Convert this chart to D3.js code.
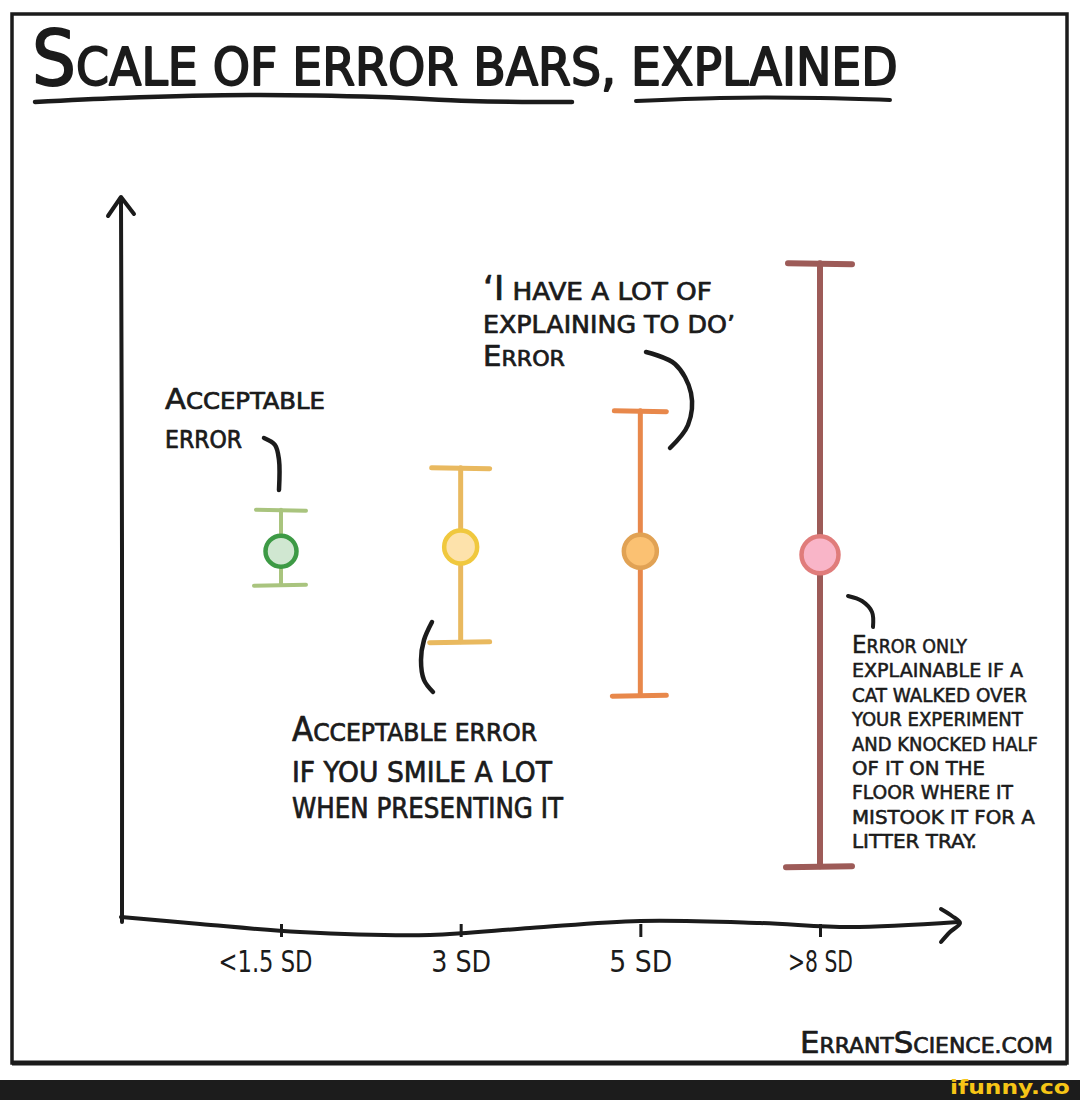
<!DOCTYPE html>
<html><head><meta charset="utf-8">
<script src="https://cdn.jsdelivr.net/npm/d3@7"></script>
<style>html,body{margin:0;padding:0;background:#fff;} svg{display:block;}</style>
</head><body>
<svg id="c" width="1080" height="1100"></svg>
<script>
// ---------- DATA ----------
const categories = ["<1.5 SD", "3 SD", "5 SD", ">8 SD"];
const centerValues = [-0.02, 0.05, -0.02, -0.08];
const upperValues  = [0.67, 1.37, 2.32, 4.78];
const lowerValues  = [-0.58, -1.53, -2.42, -5.27];

// ---------- TEXT ----------
const titleText = "{S}CALE OF ERROR BARS, EXPLAINED";
const note1 = ["{A}CCEPTABLE", "ERROR"];
const note2 = ["{‘I} HAVE A LOT OF", "EXPLAINING TO DO’", "{E}RROR"];
const note3 = ["{A}CCEPTABLE ERROR", "IF YOU SMILE A LOT", "WHEN PRESENTING IT"];
const note4 = ["{E}RROR ONLY", "EXPLAINABLE IF A", "CAT WALKED OVER", "YOUR EXPERIMENT",
               "AND KNOCKED HALF", "OF IT ON THE", "FLOOR WHERE IT", "MISTOOK IT FOR A", "LITTER TRAY."];
const footerText = "{E}RRANT{S}CIENCE.COM";
const watermark = "ifunny.co";

// ---------- STYLE ----------
const barColors  = ["#a9c47e", "#e9b95f", "#e8884b", "#9d5b58"];
const ringColors = ["#3d9a45", "#f0c83e", "#e1a254", "#e07c7b"];
const fillColors = ["#d0e7d1", "#fde2ab", "#fbc172", "#f9b5c8"];
const barWidths  = [4, 5, 5, 6];
const capHalf    = [25, 29, 26, 32];
const radii      = [15.5, 16.5, 16.5, 18.5];
const ink = "#1b1b1b";
const FONT = "'DejaVu Sans Condensed','DejaVu Sans',sans-serif";

const svg = d3.select("#c");
svg.append("rect").attr("width",1080).attr("height",1100).attr("fill","#fff");

// frame
svg.append("rect").attr("x",12).attr("y",14).attr("width",1055).attr("height",1049)
  .attr("fill","none").attr("stroke",ink).attr("stroke-width",3.5);
svg.append("line").attr("x1",12).attr("x2",1067).attr("y1",1063).attr("y2",1063)
  .attr("stroke",ink).attr("stroke-width",5);

// bottom watermark band
svg.append("rect").attr("x",0).attr("y",1080).attr("width",1080).attr("height",20).attr("fill","#1c1c1c");

// ---------- text helper (fake small caps + width fit) ----------
function parse(str){
  const out=[]; const re=/\{([^}]*)\}/g; let last=0, m;
  while((m=re.exec(str))){ if(m.index>last) out.push([str.slice(last,m.index),false]); out.push([m[1],true]); last=re.lastIndex; }
  if(last<str.length) out.push([str.slice(last),false]);
  return out;
}
function scText(x, y, str, width, bigSize, smallSize, opts={}){
  const g = svg.append("g");
  const t = g.append("text").attr("font-family",opts.font||FONT).attr("fill",opts.fill||ink)
    .attr("font-weight",opts.weight||"normal");
  const sw = opts.stroke===undefined ? 0.7 : opts.stroke;
  if(sw>0) t.attr("stroke",opts.fill||ink).attr("stroke-width",sw).attr("stroke-linejoin","round");
  parse(str).forEach(([s,big])=>{ t.append("tspan").attr("font-size", big?bigSize:smallSize).text(s); });
  const len = t.node().getComputedTextLength();
  g.attr("transform",`translate(${x},${y}) scale(${width/len},1)`);
  return g;
}

// title
scText(32, 85, titleText, 866, 76, 52, {stroke:1.8});
const hand = d3.line().curve(d3.curveCatmullRom);
svg.append("path").attr("d", hand([[35,102],[120,98],[250,95],[380,97],[470,101],[572,102]]))
  .attr("fill","none").attr("stroke",ink).attr("stroke-width",4.5).attr("stroke-linecap","round");
svg.append("path").attr("d", hand([[636,101],[720,98],[820,98],[890,100]]))
  .attr("fill","none").attr("stroke",ink).attr("stroke-width",4).attr("stroke-linecap","round");

// ---------- scales ----------
const x = d3.scalePoint().domain(categories).range([281, 820]);
const y = d3.scaleLinear().domain([-6, 6]).range([910, 190]);

// y axis (hand-drawn)
const axisStroke = {fill:"none", stroke:ink, "stroke-width":4, "stroke-linecap":"round", "stroke-linejoin":"round"};
function styled(p){ Object.entries(axisStroke).forEach(([k,v])=>p.attr(k,v)); return p; }
styled(svg.append("path").attr("d", hand([[122,y(-6.2)],[122,y(0)],[121,y(5.8)]])));
styled(svg.append("path").attr("d", d3.line()([[108,216],[121,197],[134,214]])));
// x axis wavy baseline
styled(svg.append("path").attr("d", hand([[121,917],[200,924],[300,932],[430,935],[530,928],[640,921],[760,923],[850,927],[958,922]])));
styled(svg.append("path").attr("d", d3.line().curve(d3.curveCatmullRom)([[941,909],[952,916],[960,923],[950,932],[941,942]])));

// x axis ticks + labels through d3 axis
const xAxis = svg.append("g").attr("transform","translate(0,926)")
  .call(d3.axisBottom(x).tickSize(11).tickPadding(0));
xAxis.select(".domain").remove();
xAxis.selectAll(".tick line").attr("stroke",ink).attr("stroke-width",3).attr("y1",-2);
const labelWidths = [94, 60, 63, 65];
xAxis.selectAll(".tick text").attr("font-family",FONT).attr("font-size",30).attr("fill",ink)
  .attr("y",46).attr("dy",0)
  .each(function(d,i){
    const len=this.getComputedTextLength();
    const dx = i===0 ? -16 : 0;
    d3.select(this).attr("transform",`translate(${dx},0) scale(${labelWidths[i]/len},1)`);
  });

// ---------- error bars ----------
const data = categories.map((c,i)=>({c, i, mid:centerValues[i], hi:upperValues[i], lo:lowerValues[i]}));
const bars = svg.append("g").selectAll("g").data(data).join("g");
bars.append("line").attr("x1",d=>x(d.c)).attr("x2",d=>x(d.c)).attr("y1",d=>y(d.hi)).attr("y2",d=>y(d.lo))
  .attr("stroke",d=>barColors[d.i]).attr("stroke-width",d=>barWidths[d.i]).attr("stroke-linecap","round");
bars.append("line").attr("x1",d=>x(d.c)-capHalf[d.i]).attr("x2",d=>x(d.c)+capHalf[d.i])
  .attr("y1",d=>y(d.hi)).attr("y2",d=>y(d.hi)+1)
  .attr("stroke",d=>barColors[d.i]).attr("stroke-width",d=>barWidths[d.i]).attr("stroke-linecap","round");
bars.append("line").attr("x1",d=>x(d.c)-capHalf[d.i]-2).attr("x2",d=>x(d.c)+capHalf[d.i])
  .attr("y1",d=>y(d.lo)+1).attr("y2",d=>y(d.lo))
  .attr("stroke",d=>barColors[d.i]).attr("stroke-width",d=>barWidths[d.i]).attr("stroke-linecap","round");
bars.append("circle").attr("cx",d=>x(d.c)).attr("cy",d=>y(d.mid)).attr("r",d=>radii[d.i])
  .attr("fill",d=>fillColors[d.i]).attr("stroke",d=>ringColors[d.i]).attr("stroke-width",4.5);

// ---------- annotations ----------
const bracket = pts => svg.append("path").attr("d", hand(pts)).attr("fill","none")
  .attr("stroke",ink).attr("stroke-width",4.5).attr("stroke-linecap","round");

scText(165, 409, note1[0], 160, 29, 23);
scText(165, 448, note1[1], 77, 24, 24);
bracket([[264,438],[275,445],[279,460],[279,490]]);

scText(483, 300, note2[0], 229, 33, 25);
scText(483, 333, note2[1], 252, 25, 25);
scText(483, 366, note2[2], 82, 29, 22);
bracket([[646,352],[675,364],[691,393],[688,425],[670,448]]);

scText(292, 741, note3[0], 245, 33, 25);
scText(292, 782, note3[1], 260, 29, 29);
scText(292, 818, note3[2], 271, 29, 29);
bracket([[432,622],[424,640],[421,660],[424,680],[433,692]]);

const note4Widths = [115, 171, 175, 171, 186, 133, 161, 183, 125];
note4.forEach((s,i)=> scText(852, 653 + i*24.4, s, note4Widths[i], 25, 19, {stroke:0.5}));
svg.append("path").attr("d", hand([[848,596],[862,601],[872,612],[873,627]])).attr("fill","none")
  .attr("stroke",ink).attr("stroke-width",4).attr("stroke-linecap","round");

// footer
scText(800, 1053, footerText, 253, 31, 22);

// watermark
scText(950, 1094, watermark, 120, 19, 19, {fill:"#f6c516", weight:"bold", font:"'DejaVu Sans',sans-serif", stroke:0});
</script>
</body></html>
